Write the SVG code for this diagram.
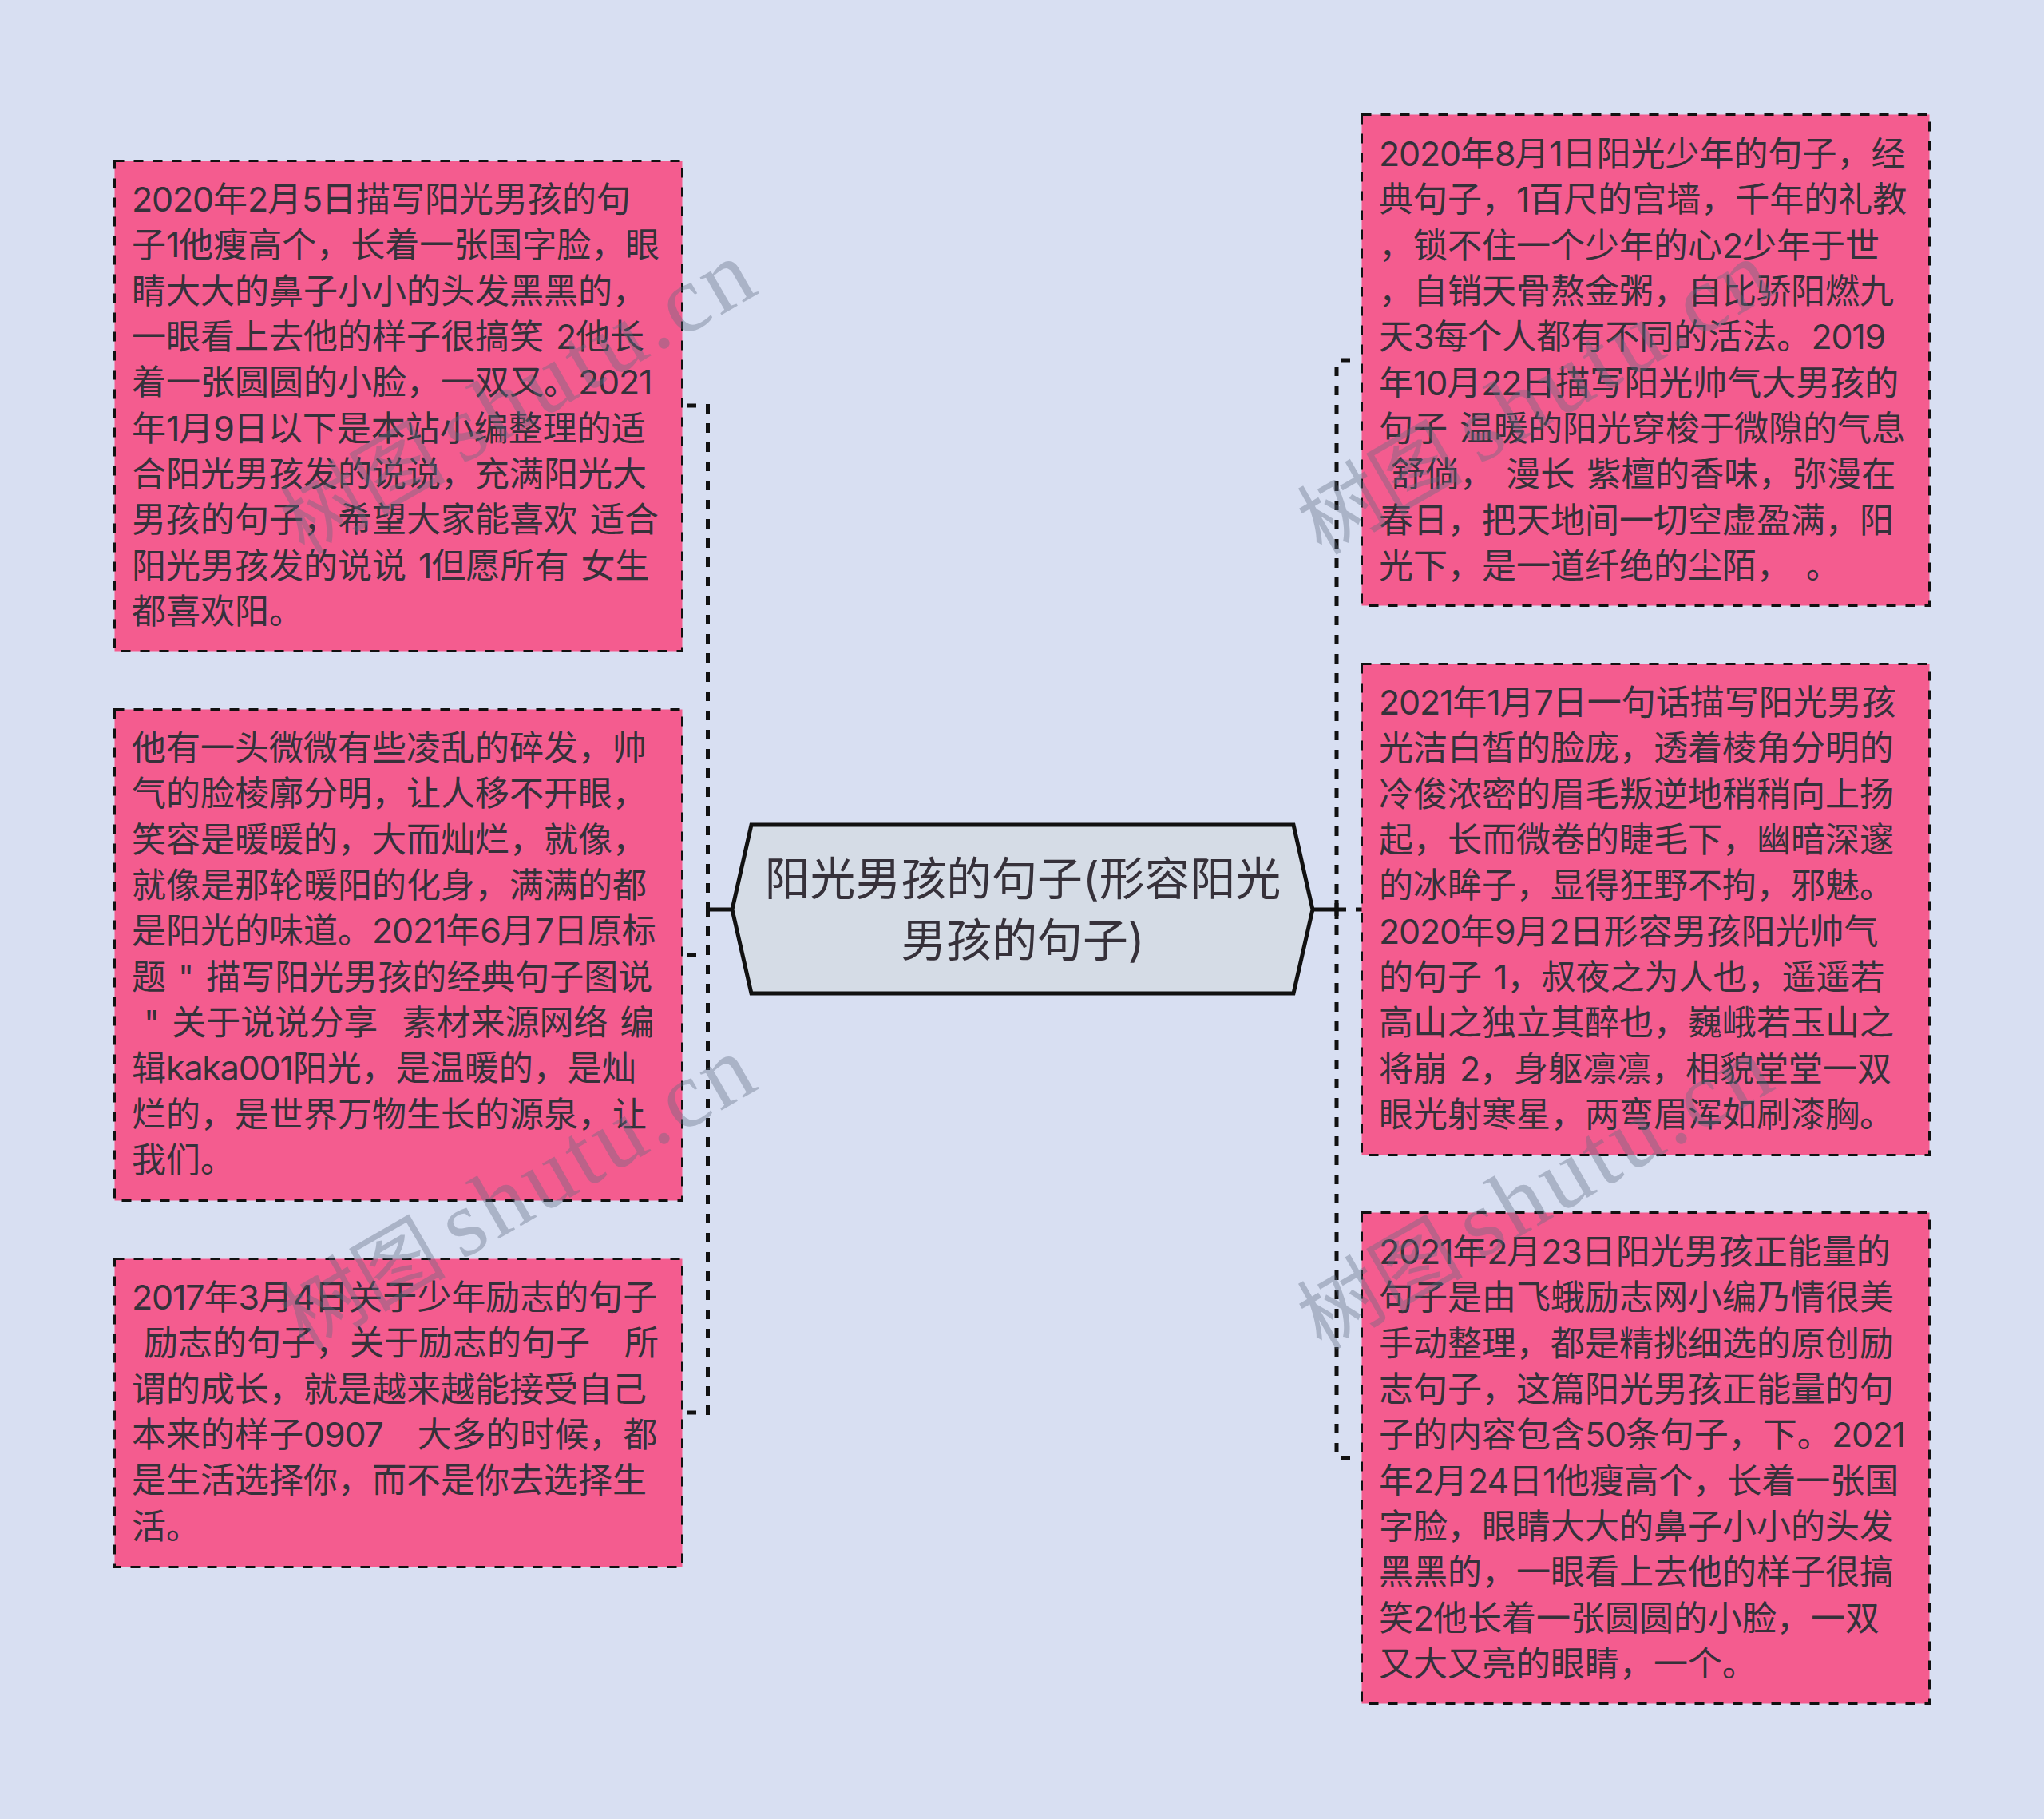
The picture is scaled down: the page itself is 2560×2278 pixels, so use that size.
<svg xmlns="http://www.w3.org/2000/svg" width="2560" height="2278" viewBox="0 0 2560 2278">
<style>
text{font-family:Inter,"Noto Sans CJK SC",sans-serif;fill:#36313a;white-space:pre}
.b{fill:#f45c8f;stroke:#111;stroke-width:3;stroke-dasharray:12 12}
.t{font-size:43px;word-spacing:3px}
.n{letter-spacing:-1.2px}
.c{font-size:56.9px;text-anchor:middle}
.d{fill:none;stroke:#111;stroke-width:5;stroke-dasharray:12 12}
.s{fill:none;stroke:#111;stroke-width:5}
.w{font-family:"Liberation Serif","Noto Sans CJK SC",serif;font-size:104px;fill:#5e6b80;fill-opacity:.38}
.l{font-size:118px;letter-spacing:5px}
</style>
<rect width="2560" height="2278" fill="#d8dff2"/>
<g id="connectors">
<path class="d" d="M886.500 506V1139"/>
<path class="d" stroke-dashoffset="3" d="M886.500 1139V1772"/>
<path class="s" d="M884 1139H917"/>
<path class="s" stroke-dasharray="12 12" d="M860 508H872M860 1196H872M860 1769H872"/>
<path class="d" d="M1674 459V1139"/>
<path class="d" stroke-dashoffset="4" d="M1674 1139V1820"/>
<path class="s" d="M1644 1139H1686"/>
<path class="s" stroke-dasharray="12 12" d="M1698 1139H1706M1679 451H1691M1679 1826H1691"/>
<path class="s" d="M1674 1127V1151"/>
</g>
<g id="root">
<path d="M941 1033H1620L1644 1139L1620 1244H941L917 1139Z" fill="#d5dce6" stroke="#111" stroke-width="5"/>
<text class="c" x="1281" y="1121">阳光男孩的句子(形容阳光</text>
<text class="c" x="1281" y="1198">男孩的句子)</text>
</g>
<g id="node-l1">
<rect class="b" x="143.500" y="201.500" width="711" height="614"/>
<g class="t">
<text x="165" y="265"><tspan class="n">2020</tspan>年<tspan class="n">2</tspan>月<tspan class="n">5</tspan>日描写阳光男孩的句</text>
<text x="165" y="322">子<tspan class="n">1</tspan>他瘦高个&#xFF0C;长着一张国字脸&#xFF0C;眼</text>
<text x="165" y="380">睛大大的鼻子小小的头发黑黑的&#xFF0C;</text>
<text x="165" y="437">一眼看上去他的样子很搞笑 <tspan class="n">2</tspan>他长</text>
<text x="165" y="494">着一张圆圆的小脸&#xFF0C;一双又。<tspan class="n">2021</tspan></text>
<text x="165" y="552">年<tspan class="n">1</tspan>月<tspan class="n">9</tspan>日以下是本站小编整理的适</text>
<text x="165" y="609">合阳光男孩发的说说&#xFF0C;充满阳光大</text>
<text x="165" y="666">男孩的句子&#xFF0C;希望大家能喜欢 适合</text>
<text x="165" y="724">阳光男孩发的说说 <tspan class="n">1</tspan>但愿所有 女生</text>
<text x="165" y="781">都喜欢阳。</text>
</g>
</g>
<g id="node-l2">
<rect class="b" x="143.500" y="888.500" width="711" height="615"/>
<g class="t">
<text x="165" y="952">他有一头微微有些凌乱的碎发&#xFF0C;帅</text>
<text x="165" y="1009">气的脸棱廓分明&#xFF0C;让人移不开眼&#xFF0C;</text>
<text x="165" y="1067">笑容是暖暖的&#xFF0C;大而灿烂&#xFF0C;就像&#xFF0C;</text>
<text x="165" y="1124">就像是那轮暖阳的化身&#xFF0C;满满的都</text>
<text x="165" y="1181">是阳光的味道。<tspan class="n">2021</tspan>年<tspan class="n">6</tspan>月<tspan class="n">7</tspan>日原标</text>
<text x="165" y="1239">题 " 描写阳光男孩的经典句子图说</text>
<text x="165" y="1296"> " 关于说说分享  素材来源网络 编</text>
<text x="165" y="1353">辑<tspan class="n">kaka001</tspan>阳光&#xFF0C;是温暖的&#xFF0C;是灿</text>
<text x="165" y="1411">烂的&#xFF0C;是世界万物生长的源泉&#xFF0C;让</text>
<text x="165" y="1468">我们。</text>
</g>
</g>
<g id="node-l3">
<rect class="b" x="143.500" y="1576.500" width="711" height="386"/>
<g class="t">
<text x="165" y="1640"><tspan class="n">2017</tspan>年<tspan class="n">3</tspan>月<tspan class="n">4</tspan>日关于少年励志的句子</text>
<text x="165" y="1697"> 励志的句子&#xFF0C;关于励志的句子&#x3000;所</text>
<text x="165" y="1755">谓的成长&#xFF0C;就是越来越能接受自己</text>
<text x="165" y="1812">本来的样子<tspan class="n">0907</tspan>&#x3000;大多的时候&#xFF0C;都</text>
<text x="165" y="1869">是生活选择你&#xFF0C;而不是你去选择生</text>
<text x="165" y="1927">活。</text>
</g>
</g>
<g id="node-r1">
<rect class="b" x="1705.500" y="143.500" width="711" height="615"/>
<g class="t">
<text x="1727" y="208"><tspan class="n">2020</tspan>年<tspan class="n">8</tspan>月<tspan class="n">1</tspan>日阳光少年的句子&#xFF0C;经</text>
<text x="1727" y="265">典句子&#xFF0C;<tspan class="n">1</tspan>百尺的宫墙&#xFF0C;千年的礼教</text>
<text x="1727" y="323">&#xFF0C;锁不住一个少年的心<tspan class="n">2</tspan>少年于世</text>
<text x="1727" y="380">&#xFF0C;自销天骨熬金粥&#xFF0C;自比骄阳燃九</text>
<text x="1727" y="437">天<tspan class="n">3</tspan>每个人都有不同的活法。<tspan class="n">2019</tspan></text>
<text x="1727" y="495">年<tspan class="n">10</tspan>月<tspan class="n">22</tspan>日描写阳光帅气大男孩的</text>
<text x="1727" y="552">句子 温暖的阳光穿梭于微隙的气息</text>
<text x="1727" y="609"> 舒倘&#xFF0C; 漫长 紫檀的香味&#xFF0C;弥漫在</text>
<text x="1727" y="667">春日&#xFF0C;把天地间一切空虚盈满&#xFF0C;阳</text>
<text x="1727" y="724">光下&#xFF0C;是一道纤绝的尘陌&#xFF0C;&#x20;<tspan dx="4">。</tspan></text>
</g>
</g>
<g id="node-r2">
<rect class="b" x="1705.500" y="831.500" width="711" height="615"/>
<g class="t">
<text x="1727" y="895"><tspan class="n">2021</tspan>年<tspan class="n">1</tspan>月<tspan class="n">7</tspan>日一句话描写阳光男孩</text>
<text x="1727" y="952">光洁白皙的脸庞&#xFF0C;透着棱角分明的</text>
<text x="1727" y="1010">冷俊浓密的眉毛叛逆地稍稍向上扬</text>
<text x="1727" y="1067">起&#xFF0C;长而微卷的睫毛下&#xFF0C;幽暗深邃</text>
<text x="1727" y="1124">的冰眸子&#xFF0C;显得狂野不拘&#xFF0C;邪魅。</text>
<text x="1727" y="1182"><tspan class="n">2020</tspan>年<tspan class="n">9</tspan>月<tspan class="n">2</tspan>日形容男孩阳光帅气</text>
<text x="1727" y="1239">的句子 <tspan class="n">1</tspan>&#xFF0C;叔夜之为人也&#xFF0C;遥遥若</text>
<text x="1727" y="1296">高山之独立其醉也&#xFF0C;巍峨若玉山之</text>
<text x="1727" y="1354">将崩 <tspan class="n">2</tspan>&#xFF0C;身躯凛凛&#xFF0C;相貌堂堂一双</text>
<text x="1727" y="1411">眼光射寒星&#xFF0C;两弯眉浑如刷漆胸。</text>
</g>
</g>
<g id="node-r3">
<rect class="b" x="1705.500" y="1518.500" width="711" height="615"/>
<g class="t">
<text x="1727" y="1583"><tspan class="n">2021</tspan>年<tspan class="n">2</tspan>月<tspan class="n">23</tspan>日阳光男孩正能量的</text>
<text x="1727" y="1640">句子是由飞蛾励志网小编乃情很美</text>
<text x="1727" y="1698">手动整理&#xFF0C;都是精挑细选的原创励</text>
<text x="1727" y="1755">志句子&#xFF0C;这篇阳光男孩正能量的句</text>
<text x="1727" y="1812">子的内容包含<tspan class="n">50</tspan>条句子&#xFF0C;下。<tspan class="n">2021</tspan></text>
<text x="1727" y="1870">年<tspan class="n">2</tspan>月<tspan class="n">24</tspan>日<tspan class="n">1</tspan>他瘦高个&#xFF0C;长着一张国</text>
<text x="1727" y="1927">字脸&#xFF0C;眼睛大大的鼻子小小的头发</text>
<text x="1727" y="1984">黑黑的&#xFF0C;一眼看上去他的样子很搞</text>
<text x="1727" y="2042">笑<tspan class="n">2</tspan>他长着一张圆圆的小脸&#xFF0C;一双</text>
<text x="1727" y="2099">又大又亮的眼睛&#xFF0C;一个。</text>
</g>
</g>
<g id="watermarks">
<text class="w" transform="translate(381 696) rotate(-30)">树图<tspan class="l" dx="20">shutu.cn</tspan></text>
<text class="w" transform="translate(381 1692) rotate(-30)">树图<tspan class="l" dx="20">shutu.cn</tspan></text>
<text class="w" transform="translate(1655 696) rotate(-30)">树图<tspan class="l" dx="20">shutu.cn</tspan></text>
<text class="w" transform="translate(1655 1692) rotate(-30)">树图<tspan class="l" dx="20">shutu.cn</tspan></text>
</g>
</svg>
